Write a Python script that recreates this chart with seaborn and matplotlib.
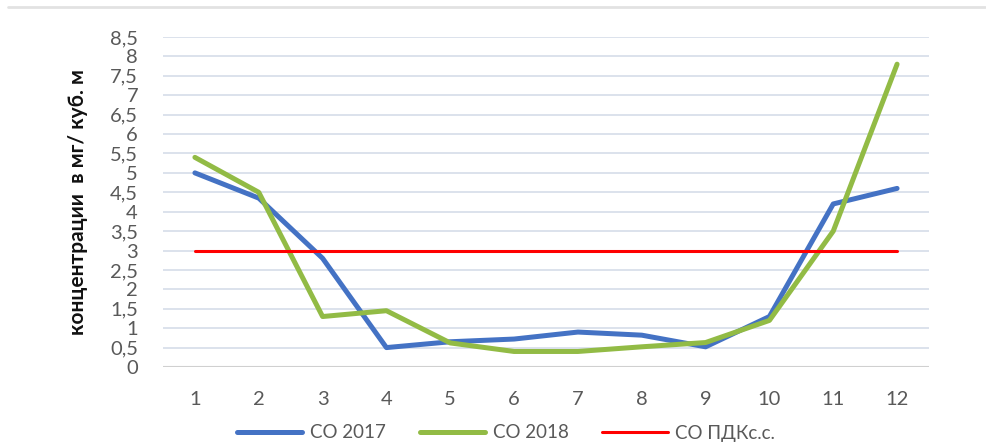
import matplotlib
matplotlib.use("Agg")
import matplotlib.pyplot as plt
from matplotlib.lines import Line2D
import seaborn as sns
import pandas as pd
import numpy as np

months = [1, 2, 3, 4, 5, 6, 7, 8, 9, 10, 11, 12]
co_2017 = [5.0, 4.35, 2.8, 0.5, 0.65, 0.72, 0.9, 0.82, 0.52, 1.3, 4.2, 4.6]
co_2018 = [5.4, 4.5, 1.3, 1.45, 0.62, 0.4, 0.4, 0.52, 0.63, 1.2, 3.5, 7.8]
co_pdk = [3.0] * 12
series_names = ["СО 2017", "СО 2018", "СО ПДКс.с."]
y_ticks = [0, 0.5, 1, 1.5, 2, 2.5, 3, 3.5, 4, 4.5, 5, 5.5, 6, 6.5, 7, 7.5, 8, 8.5]
y_label = "концентрации  в мг/ куб. м"

sns.set_theme(style="white")
plt.rcParams['font.family'] = ['Lato', 'DejaVu Sans']

df = pd.DataFrame({
    "month": months * 3,
    "value": co_2017 + co_2018 + co_pdk,
    "series": [series_names[0]] * 12 + [series_names[1]] * 12 + [series_names[2]] * 12,
})

fig = plt.figure(figsize=(9.86, 4.45), dpi=100)
ax = fig.add_axes([163 / 986, 1 - 367 / 445, (929 - 163) / 986, (367 - 37) / 445])

palette = {series_names[0]: "#4472C4", series_names[1]: "#92BB45", series_names[2]: "#FF0000"}
sizes = {series_names[0]: 3.6, series_names[1]: 3.6, series_names[2]: 2.2}
sns.lineplot(data=df, x="month", y="value", hue="series", palette=palette,
             size="series", sizes=sizes, ax=ax, legend=False, zorder=3)

ax.set_xlim(0.5, 12.5)
ax.set_ylim(0, 8.5)
ax.set_yticks(y_ticks)
ax.set_yticklabels([("%g" % t).replace(".", ",") for t in y_ticks])
ax.set_xticks(months)
ax.set_xticklabels([str(m) for m in months])

for t in y_ticks[1:]:
    ax.axhline(t, color="#D9DFEA", lw=1.3, zorder=1)
ax.axhline(0, color="#D0D0D0", lw=1.5, zorder=1)

for s in ax.spines.values():
    s.set_visible(False)

ax.tick_params(axis="y", labelsize=14.5, labelcolor="#595959", length=0, pad=18)
ax.tick_params(axis="x", labelsize=14.5, labelcolor="#595959", length=0, pad=17)
ax.set_xlabel("")
ax.set_ylabel(y_label, fontsize=15, fontweight="bold", color="#111111")
ax.yaxis.set_label_coords(-0.098, 0.5)

handles = [Line2D([0], [0], color=palette[n], lw=sizes[n]) for n in series_names]
fig.legend(handles, series_names, loc="center", bbox_to_anchor=(506 / 986, 1 - 433 / 445),
           ncol=3, frameon=False, fontsize=13.5, handlelength=3.5, handletextpad=0.4,
           columnspacing=1.8, labelcolor="#595959")

fig.add_artist(Line2D([8 / 986, 985 / 986], [1 - 7 / 445, 1 - 7 / 445], color="#E2E2E2", lw=2))

fig.savefig("out.png", dpi=100)
